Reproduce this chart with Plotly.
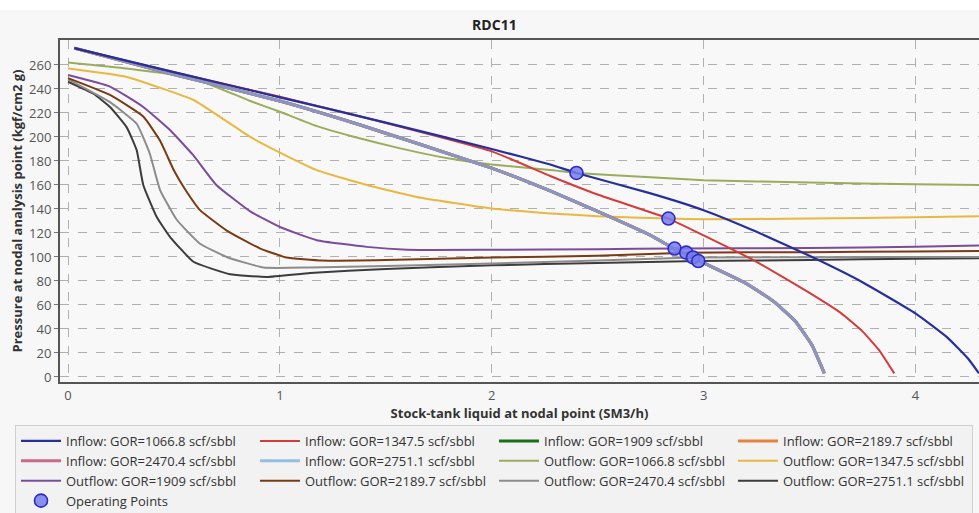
import plotly.graph_objects as go

# ---------------- data ----------------
# Inflow curves (IPR)
inflow_1066_x = [0.03, 0.5, 1.0, 1.5, 2.0, 2.276, 2.4, 2.75, 3.0, 3.25, 3.5, 3.75, 4.0, 4.15, 4.25, 4.3]
inflow_1066_y = [274, 254, 233, 212, 190, 177, 170, 153, 139, 121, 101, 79, 53, 33, 15, 3]

inflow_1347_x = [0.03, 0.5, 1.0, 1.38, 2.0, 2.276, 2.5, 2.834, 3.0, 3.25, 3.5, 3.65, 3.75, 3.83, 3.9]
inflow_1347_y = [274, 254, 233.5, 217, 188, 167.5, 152, 132, 118, 96, 70, 53, 38, 22, 3]

# inflows for GOR 1909 .. 2751.1 coincide
inflow_other_x = [0.03, 0.5, 1.0, 1.38, 2.0, 2.276, 2.5, 2.75, 2.86, 3.0, 3.2, 3.33, 3.43, 3.51, 3.57]
inflow_other_y = [274, 252, 230, 210, 174, 155, 138, 118, 107, 95, 78, 63, 47, 27, 3]

# Outflow curves (VLP)
out_1066_x = [0.0, 0.277, 0.59, 0.86, 1.0, 1.174, 1.33, 1.568, 1.8, 2.0, 2.276, 2.4, 2.75, 3.0, 3.5, 4.0, 4.3]
out_1066_y = [262, 257, 249, 230, 221, 209, 201, 190.5, 182, 177, 172.4, 170, 166.5, 164, 162, 160.5, 160]

out_1347_x = [0.0, 0.277, 0.59, 0.749, 0.86, 1.0, 1.174, 1.41, 1.645, 2.0, 2.276, 2.5, 2.834, 3.0, 3.5, 4.0, 4.3]
out_1347_y = [257, 250, 231, 213, 200, 187, 172.4, 160, 150, 140.4, 136.3, 134, 132, 131.5, 132, 133, 134]

out_1909_x = [0.0, 0.198, 0.355, 0.48, 0.59, 0.7, 0.86, 1.0, 1.174, 1.41, 1.6, 2.0, 2.5, 2.86, 3.5, 4.0, 4.3]
out_1909_y = [251.6, 242, 225, 206, 185, 160, 138, 125, 114, 108.4, 106, 106, 106.5, 107, 107.5, 108.5, 109.5]

out_2189_x = [0.0, 0.198, 0.355, 0.434, 0.5, 0.55, 0.623, 0.749, 0.907, 1.03, 1.2, 1.5, 2.0, 2.5, 2.918, 3.5, 4.0, 4.3]
out_2189_y = [249, 235, 217, 197, 172, 157, 139, 122, 107, 99.6, 97, 97.5, 99.5, 101, 103.6, 104, 104.5, 105]

out_2470_x = [0.0, 0.198, 0.324, 0.386, 0.434, 0.513, 0.623, 0.749, 0.922, 1.143, 1.5, 2.0, 2.5, 2.95, 3.5, 4.0, 4.3]
out_2470_y = [248, 229, 211, 186, 156, 131, 111, 100, 91.2, 91.2, 92.5, 94.5, 97, 99.6, 99.8, 100, 100]

out_2751_x = [0.0, 0.12, 0.198, 0.277, 0.324, 0.355, 0.418, 0.48, 0.592, 0.765, 0.938, 1.143, 1.5, 2.0, 2.5, 2.975, 3.5, 4.0, 4.3]
out_2751_y = [246, 236, 225, 208, 189, 160, 133.5, 117, 96, 85.6, 83.4, 86.7, 90, 93, 95, 96.6, 97.5, 98.5, 99]

# Operating points
op_x = [2.40, 2.834, 2.863, 2.918, 2.950, 2.975]
op_y = [170, 132, 107, 103.6, 99.6, 96.6]

x_ticks = [0, 1, 2, 3, 4]
y_ticks = list(range(0, 261, 20))

# ---------------- figure ----------------
fig = go.Figure()

def add_line(name, x, y, color, width=2.0, opacity=1.0, rank=0):
    fig.add_trace(go.Scatter(
        x=x, y=y, mode="lines", name=name, opacity=opacity,
        line=dict(color=color, width=width, shape="spline", smoothing=0.4),
        legendrank=rank, hoverinfo="skip"))

# Draw order (bottom to top); legendrank sets the legend order
add_line("Outflow: GOR=2751.1 scf/sbbl", out_2751_x, out_2751_y, "#3c3c3c", 2, rank=112)
add_line("Outflow: GOR=2470.4 scf/sbbl", out_2470_x, out_2470_y, "#8c8c8c", 2, rank=111)
add_line("Outflow: GOR=2189.7 scf/sbbl", out_2189_x, out_2189_y, "#7a3b14", 2, rank=110)
add_line("Outflow: GOR=1909 scf/sbbl", out_1909_x, out_1909_y, "#7b4c9c", 2, rank=109)
add_line("Outflow: GOR=1347.5 scf/sbbl", out_1347_x, out_1347_y, "#e8b840", 2, rank=108)
add_line("Outflow: GOR=1066.8 scf/sbbl", out_1066_x, out_1066_y, "#9bad5c", 2, rank=107)
add_line("Inflow: GOR=1909 scf/sbbl", inflow_other_x, inflow_other_y, "#1b6e1b", 3, rank=103)
add_line("Inflow: GOR=2189.7 scf/sbbl", inflow_other_x, inflow_other_y, "#e8823a", 3, rank=104)
add_line("Inflow: GOR=2470.4 scf/sbbl", inflow_other_x, inflow_other_y, "#c86a8a", 3, rank=105)
add_line("Inflow: GOR=2751.1 scf/sbbl", inflow_other_x, inflow_other_y, "#6fa8dc", 3, opacity=0.7, rank=106)
add_line("Inflow: GOR=1347.5 scf/sbbl", inflow_1347_x, inflow_1347_y, "#d43c3c", 2, rank=102)
add_line("Inflow: GOR=1066.8 scf/sbbl", inflow_1066_x, inflow_1066_y, "#27309a", 2.2, rank=101)

fig.add_trace(go.Scatter(
    x=op_x, y=op_y, mode="markers", name="Operating Points", legendrank=113,
    marker=dict(size=13, color="rgba(120,125,235,0.85)",
                line=dict(color="#2a2ac8", width=1.6)),
    hoverinfo="skip"))

font_family = "Open Sans, Noto Sans, DejaVu Sans, sans-serif"

PLOT_H = 513 - 40 - 131
PLOT_W = 979 - 60

fig.update_layout(
    width=979, height=513,
    margin=dict(l=60, r=0, t=40, b=131, pad=0, autoexpand=False),
    paper_bgcolor="#f7f7f7",
    plot_bgcolor="#f8f8f8",
    font=dict(family=font_family, size=13, color="#444"),
    title=dict(text="<b>RDC11</b>", x=0.505, xanchor="center",
               y=1 - 25 / 513, yanchor="middle",
               font=dict(size=14, color="#222", family=font_family)),
    xaxis=dict(
        range=[-0.038, 4.30], tickvals=x_ticks, ticktext=[str(v) for v in x_ticks],
        showgrid=True, gridcolor="#b0b0b0", griddash="dash", gridwidth=1,
        zeroline=False, showline=True, linecolor="#555", linewidth=2, mirror=True,
        ticks="", tickfont=dict(size=13, color="#555"),
        title=dict(text="<b>Stock-tank liquid at nodal point (SM3/h)</b>",
                   font=dict(size=13, color="#333"), standoff=4),
    ),
    yaxis=dict(
        range=[-4.2, 280.8], tickvals=y_ticks,
        showgrid=True, gridcolor="#b0b0b0", griddash="dash", gridwidth=1,
        zeroline=False, showline=True, linecolor="#555", linewidth=2,
        ticks="outside", ticklen=4, tickcolor="#777",
        tickfont=dict(size=13, color="#555"),
        title=dict(text="<b>Pressure at nodal analysis point (kgf/cm2 g)</b>",
                   font=dict(size=13, color="#333"), standoff=4),
    ),
    legend=dict(
        orientation="h", xref="paper", yref="paper",
        x=(15 - 60) / PLOT_W, xanchor="left",
        y=-(425 - 382) / PLOT_H, yanchor="top",
        entrywidth=184, entrywidthmode="pixels",
        bgcolor="#f2f2f2", bordercolor="#cfcfcf", borderwidth=1,
        font=dict(size=13, color="#333", family=font_family),
        tracegroupgap=0, itemwidth=40,
    ),
    shapes=[dict(type="rect", xref="paper", yref="paper",
                 x0=-0.07, x1=1.01, y0=(PLOT_H + 30) / PLOT_H, y1=1.2,
                 fillcolor="#ffffff", line=dict(width=0), layer="below")],
)

fig.write_html("out.html")
